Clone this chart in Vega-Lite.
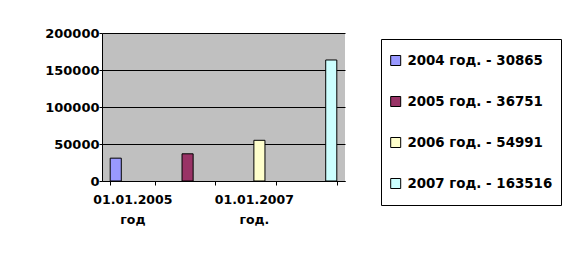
{
  "$schema": "https://vega.github.io/schema/vega-lite/v6.json",
  "autosize": "none",
  "width": 243,
  "height": 148,
  "padding": {"left": 102, "top": 33, "right": 219, "bottom": 72},
  "background": "white",
  "data": {
    "values": [
      {"cat": "01.01.2005 год", "series": "2004 год. - 30865", "value": 30865},
      {"cat": "01.01.2006 год", "series": "2005 год. - 36751", "value": 36751},
      {"cat": "01.01.2007 год.", "series": "2006 год. - 54991", "value": 54991},
      {"cat": "01.01.2008 год", "series": "2007 год. - 163516", "value": 163516}
    ]
  },
  "mark": {"type": "bar", "stroke": "#000000", "strokeWidth": 1},
  "encoding": {
    "x": {
      "field": "cat",
      "type": "nominal",
      "sort": null,
      "scale": {"paddingInner": 0.27, "paddingOuter": 0.135},
      "axis": {
        "title": null,
        "labelAngle": 0,
        "tickBand": "extent",
        "labelExpr": "datum.value == '01.01.2005 год' || datum.value == '01.01.2007 год.' ? split(datum.value, ' ') : ''",
        "labelFont": "DejaVu Sans",
        "labelFontWeight": "bold",
        "labelFontSize": 12.5,
        "labelColor": "#000000",
        "labelLineHeight": 20,
        "labelBaseline": "top",
        "labelPadding": 8,
        "domainColor": "#000000",
        "tickColor": "#000000",
        "tickSize": 4,
        "grid": false
      }
    },
    "xOffset": {
      "field": "series",
      "type": "nominal",
      "sort": null,
      "scale": {"paddingInner": 0, "paddingOuter": 0}
    },
    "y": {
      "field": "value",
      "type": "quantitative",
      "scale": {"domain": [0, 200000]},
      "axis": {
        "title": null,
        "values": [0, 50000, 100000, 150000, 200000],
        "format": "d",
        "labelFont": "DejaVu Sans",
        "labelFontWeight": "bold",
        "labelFontSize": 13,
        "labelColor": "#000000",
        "labelPadding": 0,
        "tickSize": 3,
        "tickColor": "#000000",
        "domainColor": "#000000",
        "grid": true,
        "gridColor": "#000000",
        "gridOpacity": 1,
        "gridWidth": 1
      }
    },
    "color": {
      "field": "series",
      "type": "nominal",
      "sort": null,
      "scale": {"range": ["#9999FF", "#993366", "#FFFFCC", "#CCFFFF"]},
      "legend": {
        "title": null,
        "orient": "none",
        "legendX": 279,
        "legendY": 6,
        "direction": "vertical",
        "padding": 8,
        "strokeColor": "#000000",
        "fillColor": "#FFFFFF",
        "symbolType": "square",
        "symbolSize": 100,
        "symbolStrokeColor": "#000000",
        "symbolStrokeWidth": 1,
        "symbolOpacity": 1,
        "clipHeight": 27,
        "rowPadding": 14,
        "labelOffset": 5,
        "labelFont": "DejaVu Sans",
        "labelFontWeight": "bold",
        "labelFontSize": 13.4,
        "labelColor": "#000000",
        "labelLimit": 300
      }
    }
  },
  "config": {
    "view": {"fill": "#C0C0C0", "stroke": null}
  }
}
